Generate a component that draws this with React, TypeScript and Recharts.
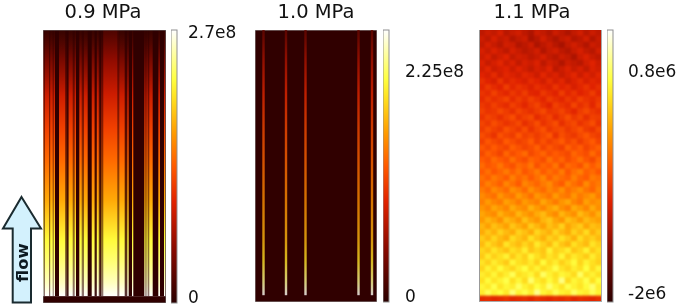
import React from "react";
import { ComposedChart, Scatter, XAxis, YAxis, ReferenceLine } from "recharts";

// ---------- data ----------
const panelTitles = ["0.9 MPa", "1.0 MPa", "1.1 MPa"];

// position along the flow (0 top .. 1 bottom of the active zone) and heat level (0-100)
const flowPositions = [0, 0.11, 0.24, 0.37, 0.49, 0.64, 0.79, 0.87, 0.95, 1];
const heatLevels09 = [7, 21, 33, 44, 53, 65, 81, 87, 94, 100];
const heatLevels10 = [12, 26, 38, 46, 52, 60, 68, 76, 90, 100];

// 0.9 MPa: channels across the panel width (0-123)
const closedChannels09: [number, number][] = [
  [12, 16], [33, 36.3], [44.7, 48.7], [85.7, 89], [90.3, 101.3], [109.7, 115.3], [117, 121],
];
const darkChannels09: [number, number][] = [
  [23.5, 25], [52, 53.5], [56.5, 58], [81.7, 84.3],
];
const partChannels09: [number, number][] = [
  [1, 2], [6, 7.2], [9.7, 10.7], [22, 26], [29.7, 31.7], [38.7, 41], [51.3, 54], [55.7, 60.3], [74.3, 76.3], [102.3, 103.6], [104.6, 106.3], [122, 123],
];
const dimBands09: [number, number][] = [
  [0, 60], [76, 123],
];
// 1.0 MPa: open channels
const openChannels10: [number, number][] = [
  [7.3, 9.7], [29.8, 32.2], [49.3, 51.7], [102.3, 104.7], [115.8, 118.2],
];

const colorBarStops = [0, 20, 37, 50, 62, 75, 82, 100];
const colorBarHex = ["#2a0000", "#8a0a00", "#e02200", "#ff5a00", "#ff9a00", "#ffe020", "#ffff40", "#ffffff"];

const barTicks1 = [2.7e8, 0];
const barTicks2 = [2.25e8, 0];
const barTicks3 = [0.8e6, -2e6];
const barLabels1 = ["2.7e8", "0"];
const barLabels2 = ["2.25e8", "0"];
const barLabels3 = ["0.8e6", "-2e6"];
const barDomain1 = [-5.8e6, 2.72e8];
const barDomain2 = [-5.7e6, 2.66e8];
const barDomain3 = [-2.109e6, 1.315e6];
const barMarks1 = [0.07, 0.18, 0.34, 0.5, 0.66, 0.82, 0.93];
const barMarks2 = [0.16, 0.32, 0.49, 0.65, 0.81, 0.95];
const barMarks3 = [0.15, 0.3, 0.45, 0.6, 0.75, 0.9];

// 1.1 MPa: estimated heat levels, 20 cells across, 45 rows down
const heatGrid11: number[][] = [
  [30,33,31,35,29,32,34,30,27,33,31,28,33,30,27,31,34,29,33,30],
  [33,30,35,31,33,28,31,33,26,29,34,30,27,31,33,28,30,34,28,32],
  [31,35,32,29,34,33,28,30,33,27,30,33,29,26,31,34,31,28,33,31],
  [35,32,36,33,30,35,32,29,31,34,28,32,34,30,28,32,35,31,29,34],
  [33,36,31,34,37,31,34,33,30,32,35,31,29,33,31,27,33,36,32,30],
  [36,32,35,38,33,36,31,35,33,36,30,34,32,28,33,31,29,34,37,33],
  [34,38,33,35,37,33,37,34,31,35,33,37,30,33,36,32,35,31,36,34],
  [37,35,39,34,38,36,34,38,36,33,38,34,36,32,35,38,33,37,34,38],
  [40,37,35,41,36,39,37,35,39,37,34,39,35,38,33,36,39,35,38,36],
  [38,42,39,37,43,38,41,39,36,40,38,36,41,37,39,35,38,41,37,40],
  [41,39,44,40,38,42,39,43,38,37,42,39,37,43,38,41,37,39,43,38],
  [39,43,40,42,45,39,43,40,44,41,38,43,40,38,42,39,44,41,39,42],
  [42,40,44,41,39,44,41,38,42,45,40,37,44,41,39,45,40,43,38,44],
  [44,41,42,46,43,40,45,42,40,43,46,41,42,45,41,38,43,46,42,40],
  [41,45,43,40,44,47,41,44,46,39,42,45,39,43,47,42,45,40,44,43],
  [45,42,47,44,41,43,46,40,43,47,41,44,47,40,44,46,41,44,47,41],
  [43,47,44,42,48,45,42,47,41,45,48,42,45,46,42,45,48,43,41,46],
  [47,44,41,48,45,43,49,44,46,43,46,49,41,47,44,42,46,49,45,43],
  [44,49,46,44,50,47,44,46,50,44,48,44,47,50,45,48,43,47,50,45],
  [49,46,50,47,45,51,48,45,47,51,45,49,46,44,51,47,50,45,48,51],
  [46,51,48,45,52,47,50,53,46,49,52,47,50,48,46,52,49,47,53,48],
  [50,48,53,50,48,54,49,47,52,50,47,54,49,52,47,50,54,49,46,52],
  [53,49,51,55,50,48,53,51,55,48,52,50,55,47,53,51,48,55,50,54],
  [50,54,49,52,56,51,55,49,52,56,50,54,51,56,49,54,57,51,53,49],
  [54,51,56,53,50,57,52,55,50,54,58,51,56,53,51,57,52,50,56,54],
  [52,57,54,51,58,54,50,58,55,52,56,59,53,50,58,54,51,59,53,56],
  [56,53,59,56,53,60,57,53,60,56,53,58,55,60,54,57,60,55,52,58],
  [59,56,54,61,57,55,62,58,54,61,58,55,62,57,55,61,56,59,62,56],
  [57,62,58,56,63,60,56,62,59,57,64,60,56,61,64,58,55,63,59,61],
  [61,58,64,61,58,65,61,59,66,62,58,63,66,60,57,65,62,58,65,60],
  [64,61,59,66,62,60,67,63,60,65,68,62,59,67,63,60,68,64,60,66],
  [62,67,64,60,68,65,61,69,64,61,67,70,64,61,69,66,62,68,65,63],
  [67,63,69,66,63,70,66,63,71,67,63,69,66,72,64,68,71,64,69,67],
  [65,70,66,72,68,65,72,69,65,73,69,66,73,68,65,72,68,74,66,71],
  [71,67,73,68,65,74,70,67,75,70,66,72,69,75,71,66,74,69,72,68],
  [68,74,70,67,76,71,68,73,69,77,72,68,76,70,67,75,71,68,76,72],
  [73,70,76,72,69,75,72,78,70,73,70,79,72,74,78,70,73,79,71,75],
  [71,77,72,75,79,71,76,72,80,75,71,76,73,80,72,77,74,71,78,73],
  [76,72,78,74,71,80,75,73,77,72,81,74,78,72,76,81,73,79,75,72],
  [73,79,75,81,76,73,78,82,75,79,74,77,83,76,73,78,75,82,74,80],
  [78,75,80,74,78,84,75,77,80,74,85,79,75,80,78,74,85,76,79,75],
  [75,81,76,79,83,75,80,74,86,78,75,81,76,88,74,80,77,83,75,82],
  [80,77,83,76,80,78,85,79,76,82,78,86,80,76,83,79,76,81,86,78],
  [78,84,79,82,77,87,79,83,78,89,80,77,84,79,77,85,80,78,84,79],
  [39,40,38,39,41,38,39,40,38,41,39,38,40,39,41,38,40,39,38,40],
];

// ---------- helpers ----------
const hexToRgb = (h: string) => [1, 3, 5].map((i) => parseInt(h.slice(i, i + 2), 16));
function heatColor(v: number): string {
  let i = 0;
  while (i < colorBarStops.length - 2 && v > colorBarStops[i + 1]) i++;
  const t = Math.min(1, Math.max(0, (v - colorBarStops[i]) / (colorBarStops[i + 1] - colorBarStops[i])));
  const a = hexToRgb(colorBarHex[i]);
  const b = hexToRgb(colorBarHex[i + 1]);
  return `rgb(${a.map((c, k) => Math.round(c + (b[k] - c) * t)).join(",")})`;
}

const FONT = "'DejaVu Sans', sans-serif";
const DARK = "#300000";

const flowGradient = (id: string, levels: number[], opacity = 1) => (
  <linearGradient id={id} x1="0" y1="0" x2="0" y2="1">
    {flowPositions.map((p, i) => (
      <stop key={i} offset={p} stopColor={heatColor(levels[i])} stopOpacity={opacity} />
    ))}
  </linearGradient>
);

// a rectangle centred on a point placed by the axes; w and h are in axis units
const band = (unitX: number, unitY: number, style: any) => (p: any) => {
  const w = p.payload.w * unitX;
  const h = p.payload.h * unitY;
  return <rect x={p.cx - w / 2} y={p.cy - h / 2} width={w} height={h} {...style} />;
};
const spans = (list: [number, number][], y0: number, y1: number) =>
  list.map(([a, b]) => ({ x: (a + b) / 2, y: (y0 + y1) / 2, w: b - a, h: y1 - y0 }));

const Title = ({ text, cx }: { text: string; cx: number }) => (
  <div style={{ position: "absolute", left: cx - 70, width: 140, top: 0, textAlign: "center", fontFamily: FONT, fontSize: 19.5, lineHeight: "23px", color: "#111" }}>
    {text}
  </div>
);

const NoMark = () => null;

function ColorBar({ left, top, height, ticks, labels, domain, marks, id, gap }: any) {
  const PAD = 12;
  return (
    <div style={{ position: "absolute", left, top: top - PAD }}>
      <ComposedChart width={82} height={height + 2 * PAD} margin={{ top: PAD, right: 0, bottom: PAD, left: 0 }}>
        <defs>
          <linearGradient id={id} x1="0" y1="1" x2="0" y2="0">
            {colorBarStops.map((s, i) => (
              <stop key={i} offset={s / 100} stopColor={colorBarHex[i]} />
            ))}
          </linearGradient>
        </defs>
        <XAxis type="number" dataKey="x" domain={[0, 1]} hide />
        <YAxis yAxisId="m" dataKey="y" type="number" domain={[0, 1]} hide />
        <YAxis
          yAxisId="v"
          dataKey="y"
          orientation="right"
          type="number"
          width={76}
          domain={domain}
          ticks={ticks}
          interval={0}
          axisLine={false}
          tickLine={false}
          tickMargin={gap}
          tickFormatter={(v: number) => labels[ticks.indexOf(v)]}
          tick={{ fontFamily: FONT, fontSize: 17, fill: "#111", textAnchor: "start" }}
        />
        <Scatter
          yAxisId="m"
          data={[{ x: 0.5, y: 0.5, w: 1, h: 1 }]}
          shape={band(6, height, { fill: `url(#${id})`, stroke: "#8f8f8f", strokeWidth: 1 })}
          isAnimationActive={false}
        />
        <Scatter yAxisId="v" data={ticks.map((v: number) => ({ x: 0.5, y: v }))} shape={NoMark} isAnimationActive={false} />
        {marks.map((m: number, i: number) => (
          <ReferenceLine key={i} yAxisId="m" segment={[{ x: 0.7, y: m }, { x: 1, y: m }]} stroke="#555" strokeOpacity={0.6} />
        ))}
      </ComposedChart>
    </div>
  );
}

function Panel09() {
  const b = (style: any) => band(1, 273, style);
  return (
    <div style={{ position: "absolute", left: 43, top: 30 }}>
      <ComposedChart width={123} height={273} margin={{ top: 0, right: 0, bottom: 0, left: 0 }}>
        <defs>
          {flowGradient("heat09", heatLevels09)}
          <linearGradient id="dim09" x1="0" y1="0" x2="0" y2="1">
            <stop offset={0} stopColor="#000" stopOpacity={0.3} />
            <stop offset={0.25} stopColor="#000" stopOpacity={0} />
          </linearGradient>
        </defs>
        <XAxis type="number" dataKey="x" domain={[0, 123]} hide />
        <YAxis type="number" dataKey="y" domain={[0, 1]} reversed hide />
        <Scatter data={spans([[0, 123]], 0, 0.975)} shape={b({ fill: "url(#heat09)" })} isAnimationActive={false} />
        <Scatter data={spans(dimBands09, 0, 0.975)} shape={b({ fill: "url(#dim09)" })} isAnimationActive={false} />
        <Scatter data={spans(partChannels09, 0, 0.975)} shape={b({ fill: DARK, fillOpacity: 0.55 })} isAnimationActive={false} />
        <Scatter data={spans(darkChannels09, 0, 0.975)} shape={b({ fill: DARK, fillOpacity: 0.8 })} isAnimationActive={false} />
        <Scatter data={spans(closedChannels09, 0, 0.975)} shape={b({ fill: DARK })} isAnimationActive={false} />
        <Scatter data={spans([[0, 123]], 0.975, 1)} shape={b({ fill: DARK })} isAnimationActive={false} />
        <Scatter data={spans([[0, 123]], 0, 1)} shape={b({ fill: "none", stroke: "#777", strokeWidth: 1 })} isAnimationActive={false} />
      </ComposedChart>
    </div>
  );
}

function Panel10() {
  const b = (style: any) => band(1, 272, style);
  return (
    <div style={{ position: "absolute", left: 255, top: 30 }}>
      <ComposedChart width={122} height={272} margin={{ top: 0, right: 0, bottom: 0, left: 0 }}>
        <defs>{flowGradient("heat10", heatLevels10, 0.8)}</defs>
        <XAxis type="number" dataKey="x" domain={[0, 122]} hide />
        <YAxis type="number" dataKey="y" domain={[0, 1]} reversed hide />
        <Scatter data={spans([[0, 122]], 0, 1)} shape={b({ fill: DARK, stroke: "#999", strokeWidth: 1 })} isAnimationActive={false} />
        <Scatter data={spans(openChannels10, 0, 0.975)} shape={b({ fill: "url(#heat10)" })} isAnimationActive={false} />
      </ComposedChart>
    </div>
  );
}

const cells11 = heatGrid11.flatMap((row, r) => row.map((v, c) => ({ x: c + 0.5, y: r + 0.5, v })));
const CELL_W = 123 / 20;
const CELL_H = 272 / 45;
const HeatCell = (p: any) => (
  <rect x={p.cx - CELL_W / 2 - 0.3} y={p.cy - CELL_H / 2 - 0.3} width={CELL_W + 0.6} height={CELL_H + 0.6} fill={heatColor(p.payload.v)} />
);
const edgeStops = heatGrid11.map((row, r) => `${heatColor(row[0])} ${((r + 0.5) / 45) * 100}%`).join(",");

function Panel11() {
  return (
    <div style={{ position: "absolute", left: 479, top: 30, width: 123, height: 272, overflow: "hidden", background: `linear-gradient(to bottom,${edgeStops})` }}>
      <div style={{ filter: "blur(0.8px)" }}>
        <ComposedChart width={123} height={272} margin={{ top: 0, right: 0, bottom: 0, left: 0 }}>
          <XAxis type="number" dataKey="x" domain={[0, 20]} hide />
          <YAxis type="number" dataKey="y" domain={[0, 45]} reversed hide />
          <Scatter data={cells11} shape={HeatCell} isAnimationActive={false} />
        </ComposedChart>
      </div>
      <div style={{ position: "absolute", inset: 0, boxSizing: "border-box", borderLeft: "1px solid #999", borderRight: "1px solid #aaa", borderBottom: "1px solid #aaa" }} />
    </div>
  );
}

const FlowArrow = () => (
  <svg width={46} height={112} style={{ position: "absolute", left: 0, top: 195 }}>
    <polygon points="21.5,2 41,33.5 31,33.5 31,107.5 12.7,107.5 12.7,33.5 3,33.5" fill="#d3f1fd" stroke="#1a2b30" strokeWidth={2} />
    <text transform="translate(27.5,87) rotate(-90)" fontFamily={FONT} fontWeight="bold" fontSize={16.5} fill="#0d1a22">flow</text>
  </svg>
);

export default function App() {
  return (
    <div style={{ position: "absolute", left: 0, top: 0, width: 680, height: 307, background: "#fff", overflow: "hidden", filter: "blur(0.3px)" }}>
      <Title text={panelTitles[0]} cx={103} />
      <Title text={panelTitles[1]} cx={316} />
      <Title text={panelTitles[2]} cx={532} />
      <Panel09 />
      <Panel10 />
      <Panel11 />
      <ColorBar id="bar1" gap={5} left={171} top={30} height={273} ticks={barTicks1} labels={barLabels1} domain={barDomain1} marks={barMarks1} />
      <ColorBar id="bar2" gap={10} left={383} top={30} height={272} ticks={barTicks2} labels={barLabels2} domain={barDomain2} marks={barMarks2} />
      <ColorBar id="bar3" gap={9} left={607} top={30} height={272} ticks={barTicks3} labels={barLabels3} domain={barDomain3} marks={barMarks3} />
      <FlowArrow />
    </div>
  );
}
